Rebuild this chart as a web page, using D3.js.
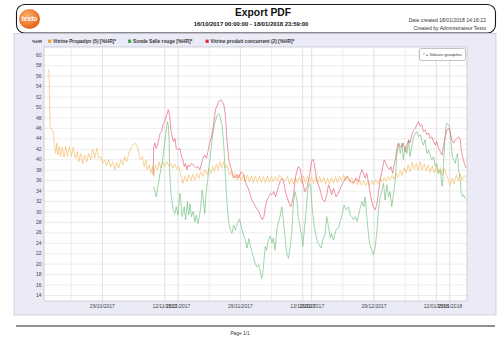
<!DOCTYPE html>
<html><head><meta charset="utf-8">
<script src="https://cdn.jsdelivr.net/npm/d3@7"></script>
<style>body{margin:0;background:#fff}svg{display:block;font-family:"Liberation Sans",Arial,sans-serif}</style>
</head><body><svg id="c" width="500" height="350"></svg>
<script>
// ---- data (day offset from 16/10/2017 00:00, %HR) ----
const seriesNames = ["Vitrine Propadyn (5) [%HR]*","Sonde Salle rouge [%HR]*","Vitrine produit concurrent (2) [%HR]*"];
const seriesColors = ["#f4bb62","#6cc07c","#e55a72"];
const legendColors = ["#eba23a","#3aa84a","#d8273a"];
const propadyn = [[1.0,57.2],[1.15,56.0],[1.3,49],[1.4,46.0],[1.8,45.6],[2.1,45.2],[2.35,42.5],[2.62,41.1],[2.85,43.1],[3.15,40.8],[3.45,42.5],[3.75,40.5],[4.12,42.3],[4.5,40.4],[4.87,42.5],[5.24,40.5],[5.69,42.4],[6.14,40.6],[6.59,42.3],[7.04,40.2],[7.49,41.5],[7.79,39.5],[8.24,41.1],[8.69,39.1],[9.14,40.8],[9.59,39.5],[10.04,41.1],[10.49,39.9],[10.94,41.9],[11.39,40.2],[11.84,42.1],[12.28,40.2],[12.73,40.5],[13.18,39.2],[13.63,39.9],[14.08,38.7],[14.53,39.9],[14.98,38.5],[15.43,39.5],[15.88,38.0],[16.33,39.4],[16.78,38.3],[17.23,39.9],[17.68,38.9],[18.13,40.5],[18.58,39.5],[19.03,41.1],[19.5,42.1],[20.0,42.7],[20.5,43.1],[21.0,42.3],[21.35,40.8],[21.7,39.9],[22.1,40.5],[22.5,38.6],[22.85,39.9],[23.2,38.0],[23.6,38.9],[24.0,37.3],[24.35,38.6],[24.65,36.7],[25.0,38.9],[25.5,38.0],[25.85,39.5],[26.2,38.3],[26.7,39.5],[27.1,38.6],[27.6,39.5],[28.0,38.7],[28.5,39.2],[28.9,38.3],[29.4,39.1],[29.8,38.1],[30.3,38.7],[30.7,37.0],[31.2,35.4],[31.6,36.7],[32.1,35.7],[32.5,37.0],[33.0,35.9],[33.4,37.1],[33.9,36.0],[34.3,37.3],[34.8,36.3],[35.2,37.6],[35.7,36.7],[36.1,38.0],[36.6,37.0],[37.0,38.3],[37.5,37.3],[37.9,38.6],[38.3,37.7],[38.7,39.1],[39.1,38.0],[39.5,39.5],[39.9,38.3],[40.3,39.5],[40.7,38.3],[41.2,38.9],[41.6,37.0],[42.1,37.6],[42.5,36.3],[43.0,37.3],[43.4,36.0],[43.9,37.2],[44.3,35.9],[44.8,37.0],[45.2,35.7],[45.7,37.0],[46.1,35.7],[46.6,36.8],[47.0,35.5],[47.5,36.8],[47.9,35.6],[48.4,36.7],[48.8,35.5],[49.3,36.7],[49.7,35.5],[50.2,36.7],[50.6,35.6],[51.1,36.7],[51.5,35.7],[52.0,36.7],[52.4,35.9],[52.9,37.0],[53.3,36.5],[53.8,36.0],[54.2,35.9],[54.7,36.7],[55.1,35.3],[55.6,36.4],[56.0,35.3],[56.5,36.5],[56.9,35.5],[57.4,36.6],[57.8,35.4],[58.3,36.8],[58.7,35.5],[59.2,36.9],[59.6,35.6],[60.1,36.6],[60.5,35.3],[61.0,36.5],[61.4,35.4],[61.9,36.7],[62.3,35.5],[62.8,36.6],[63.2,35.2],[63.7,36.4],[64.1,35.3],[64.6,36.5],[65.0,35.4],[65.5,36.7],[65.9,35.5],[66.4,36.8],[66.8,35.8],[67.3,37.0],[67.7,35.9],[68.2,36.8],[68.6,35.6],[69.1,36.5],[69.5,35.4],[70.0,36.3],[70.4,35.1],[70.9,36.0],[71.3,35.0],[71.8,35.9],[72.2,34.9],[72.7,35.8],[73.1,35.0],[73.6,35.9],[74.0,35.1],[74.5,36.1],[75.0,35.3],[75.5,36.3],[75.9,35.6],[76.4,36.5],[76.8,35.8],[77.3,36.7],[77.7,36.0],[78.2,36.9],[78.6,36.2],[79.1,37.3],[79.5,36.5],[80.0,37.8],[80.4,36.9],[80.9,38.4],[81.3,37.4],[81.8,38.9],[82.2,37.6],[82.7,39.4],[83.1,38.1],[83.6,39.2],[84.0,37.9],[84.5,39.5],[84.9,38.0],[85.4,39.1],[85.8,37.8],[86.3,38.9],[86.7,37.5],[87.2,38.7],[87.6,37.4],[88.1,38.5],[88.5,37.3],[89.0,38.4],[89.4,36.9],[89.9,38.3],[90.3,37.0],[90.8,36.2],[91.2,35.0],[91.7,36.4],[92.1,35.3],[92.6,37.0],[93.0,35.8],[93.5,37.2],[93.9,36.0],[94.4,36.9],[94.8,36.3]];
const salleRouge = [[24.5,34.8],[24.9,34.1],[25.2,32.8],[25.6,34.8],[26.0,37.0],[26.4,38.6],[26.7,40.5],[27.1,43.1],[27.5,45.9],[27.7,47.2],[27.9,46.6],[28.1,43.7],[28.2,38.0],[28.5,33.5],[28.8,31.6],[29.0,30.3],[29.4,29.6],[29.7,30.9],[30.1,29.3],[30.5,33.5],[30.7,32.2],[31.0,29.0],[31.5,30.9],[31.8,28.4],[32.2,31.9],[32.5,29.3],[32.8,31.5],[33.1,29.0],[33.5,30.0],[33.9,28.0],[34.2,29.3],[34.6,27.7],[34.9,29.0],[35.2,30.9],[35.5,34.1],[35.8,32.2],[36.1,29.6],[36.4,33.5],[36.7,35.4],[37.0,38.0],[37.5,41.8],[37.8,44.3],[38.35,46.9],[38.9,48.5],[39.25,48.8],[39.6,47.9],[40.0,46.6],[40.4,42.4],[40.75,36.7],[41.1,31.6],[41.5,27.7],[41.9,26.4],[42.2,25.8],[42.6,27.4],[43.0,26.4],[43.4,27.7],[43.9,28.5],[44.3,27.1],[44.8,25.5],[45.2,24.5],[45.6,23.0],[46.0,24.8],[46.3,23.5],[46.7,22.4],[47.0,21.3],[47.4,20.1],[47.8,19.4],[48.2,19.8],[48.5,18.8],[48.9,17.2],[49.1,17.8],[49.4,20.7],[49.7,23.3],[50.0,22.6],[50.4,24.5],[50.8,25.3],[51.2,23.9],[51.5,24.9],[51.9,22.6],[52.3,26.5],[52.7,28.1],[53.0,29.0],[53.4,30.9],[53.8,28.1],[54.2,24.5],[54.5,22.0],[54.9,21.0],[55.3,23.3],[55.7,26.5],[56.0,31.6],[56.4,33.8],[56.8,32.2],[57.1,29.0],[57.5,27.1],[57.9,25.2],[58.1,23.3],[58.4,25.8],[58.9,30.3],[59.2,34.1],[59.6,35.4],[59.9,34.8],[60.2,30.9],[60.7,27.1],[61.1,25.2],[61.6,23.9],[62.2,23.0],[62.6,24.5],[63.1,25.5],[63.5,29.0],[63.9,27.1],[64.3,24.9],[64.6,25.8],[65.0,24.5],[65.6,26.5],[66.1,26.8],[66.9,29.3],[67.4,31.2],[67.9,30.3],[68.4,30.9],[68.8,29.3],[69.1,29.0],[69.5,28.4],[69.9,29.0],[70.3,28.1],[70.9,30.3],[71.4,31.9],[71.8,30.9],[72.1,32.8],[72.4,30.0],[72.7,27.1],[73.1,23.9],[73.6,22.6],[74.0,21.7],[74.4,23.3],[74.8,26.5],[75.1,30.3],[75.5,32.8],[75.9,34.1],[76.25,35.4],[76.6,32.2],[77.0,35.1],[77.4,32.8],[77.7,33.8],[78.1,30.9],[78.5,33.5],[78.9,36.0],[79.2,40.5],[79.6,43.1],[80.0,41.1],[80.4,43.1],[80.7,39.9],[81.1,42.4],[81.5,41.1],[81.9,43.7],[82.2,40.5],[82.6,42.4],[83.0,44.3],[83.4,45.0],[83.7,45.3],[84.1,44.3],[84.5,44.7],[84.9,43.4],[85.2,42.7],[85.6,43.7],[86.0,41.1],[86.4,41.8],[86.7,40.8],[87.1,39.9],[87.5,40.5],[87.9,38.6],[88.2,39.2],[88.6,37.3],[89.0,37.9],[89.4,34.8],[89.6,36.0],[89.7,38.6],[90.0,43.1],[90.3,46.3],[90.5,46.9],[90.9,46.6],[91.2,45.6],[91.5,42.4],[91.7,40.5],[92.0,39.9],[92.4,39.2],[92.6,40.5],[92.9,41.1],[93.1,38.0],[93.5,36.0],[93.7,33.5],[94.0,32.8],[94.2,33.2],[94.6,32.5],[94.8,32.3]];
const concurrent = [[24.5,37.0],[24.65,42.4],[24.9,43.1],[25.2,42.1],[25.5,42.7],[25.8,44.0],[26.1,45.0],[26.4,45.3],[26.7,46.6],[27.1,47.2],[27.4,48.2],[27.7,48.8],[27.9,49.5],[28.2,48.5],[28.5,45.6],[28.8,44.3],[29.1,43.4],[29.4,44.0],[29.7,42.1],[30.1,41.8],[30.5,42.1],[30.9,40.5],[31.2,39.9],[31.5,38.6],[31.8,39.2],[32.1,38.0],[32.4,38.9],[32.7,38.6],[33.1,39.2],[33.5,38.9],[33.9,38.6],[34.2,38.3],[34.6,38.6],[35.0,38.0],[35.4,39.2],[35.7,40.2],[36.1,40.8],[36.5,40.2],[36.9,41.8],[37.2,43.1],[37.6,44.3],[38.0,46.3],[38.5,49.5],[39.25,51.1],[39.8,51.4],[40.4,50.4],[40.75,48.2],[41.1,43.7],[41.5,39.9],[41.9,38.6],[42.4,37.0],[42.85,36.4],[43.4,37.0],[43.7,36.4],[44.3,37.6],[44.9,37.0],[45.2,35.7],[46.0,34.1],[46.7,32.2],[47.5,30.9],[48.2,30.0],[49.0,28.4],[49.4,29.0],[49.7,30.9],[50.1,32.2],[50.5,32.8],[50.9,33.5],[51.2,33.2],[51.6,33.8],[52.0,32.8],[52.7,34.8],[53.1,36.0],[53.5,36.4],[53.9,35.4],[54.2,33.8],[54.8,32.2],[55.4,30.9],[55.7,31.6],[56.1,33.5],[56.5,36.7],[57.1,38.6],[57.5,38.3],[58.1,35.5],[58.6,33.8],[59.0,34.5],[59.6,36.7],[60.1,39.6],[60.5,40.0],[60.9,38.0],[61.3,36.0],[62.0,34.1],[62.6,32.2],[63.1,31.9],[63.5,33.2],[63.9,35.1],[64.3,34.1],[64.6,33.2],[65.0,34.4],[65.6,32.8],[66.1,33.5],[66.7,34.8],[67.3,35.7],[67.9,36.7],[68.4,36.4],[68.9,35.7],[69.5,35.4],[70.1,36.4],[70.6,35.7],[71.0,37.0],[71.4,38.0],[71.8,37.3],[72.1,36.4],[72.5,37.3],[72.9,35.4],[73.4,32.8],[73.9,30.9],[74.4,30.3],[74.8,31.6],[75.1,33.5],[75.5,36.0],[76.1,38.6],[76.4,39.9],[76.8,39.2],[77.1,38.6],[77.6,38.0],[77.9,38.6],[78.3,37.3],[78.6,38.9],[78.9,39.9],[79.2,41.8],[79.6,43.1],[80.0,42.4],[80.4,42.4],[80.7,43.1],[81.1,41.5],[81.5,42.7],[81.9,43.7],[82.2,43.1],[82.6,44.7],[83.0,45.6],[83.4,45.9],[83.7,46.6],[84.1,47.2],[84.5,46.3],[84.9,46.6],[85.2,45.3],[85.6,45.6],[86.0,44.7],[86.4,45.0],[86.7,44.0],[87.1,44.3],[87.5,43.4],[87.9,42.7],[88.2,43.4],[88.6,42.1],[89.0,41.5],[89.4,40.8],[89.7,42.4],[90.1,44.3],[90.5,45.6],[90.9,45.9],[91.2,45.3],[91.6,43.7],[92.0,43.1],[92.4,43.7],[92.7,44.0],[93.1,44.3],[93.5,43.7],[93.7,41.8],[94.0,40.5],[94.4,39.2],[94.8,38.3]];
const yTicks = [14,16,18,20,22,24,26,28,30,32,34,36,38,40,42,44,46,48,50,52,54,56,58,60];
const gridDates = ["22/10/2017","29/10/2017","12/11/2017","15/11/2017","22/11/2017","29/11/2017","06/12/2017","13/12/2017","15/12/2017","22/12/2017","29/12/2017","05/01/2018","08/01/2018","12/01/2018","15/01/2018"];
const labelDates = ["29/10/2017","12/11/2017","15/11/2017","29/11/2017","13/12/2017","15/12/2017","29/12/2017","12/01/2018","15/01/2018"];
const periodText = "16/10/2017 00:00:00 - 18/01/2018 23:59:00";

// ---- drawing ----
const parse = d3.utcParse("%d/%m/%Y");
const t0 = Date.UTC(2017,9,16);
const toDate = d => new Date(t0 + d*864e5);
const svg = d3.select("#c");
const L=44,R=467,T=47,B=301;
const x = d3.scaleUtc().domain([Date.UTC(2017,9,16), Date.UTC(2018,0,19)]).range([L,R]);
const y = d3.scaleLinear().domain([12.85,61.5]).range([B,T]);

// header
svg.append("rect").attr("x",16.5).attr("y",4.5).attr("width",479).attr("height",28.5).attr("rx",8)
  .attr("fill","#fff").attr("stroke","#1a1a1a").attr("stroke-width",1.1);
const grad = svg.append("defs").append("radialGradient").attr("id","lg").attr("cx","40%").attr("cy","35%").attr("r","65%");
grad.append("stop").attr("offset","0%").attr("stop-color","#fbb36a");
grad.append("stop").attr("offset","100%").attr("stop-color","#e8601c");
svg.append("ellipse").attr("cx",29.5).attr("cy",19).attr("rx",10.5).attr("ry",10).attr("fill","url(#lg)");
svg.append("text").attr("x",29.5).attr("y",21.3).attr("text-anchor","middle").attr("font-size",6.6)
  .attr("font-weight","bold").attr("fill","#fff").text("testo");
svg.append("text").attr("x",263).attr("y",15.5).attr("text-anchor","middle").attr("font-size",10.3)
  .attr("font-weight","bold").attr("fill","#111").text("Export PDF");
svg.append("text").attr("x",251).attr("y",26.2).attr("text-anchor","middle").attr("font-size",5.9)
  .attr("font-weight","bold").attr("fill","#111").text(periodText);
svg.append("text").attr("x",486).attr("y",21.5).attr("text-anchor","end").attr("font-size",5.1)
  .attr("fill","#333").text("Date created 18/01/2018 14:16:22");
svg.append("text").attr("x",486).attr("y",29.5).attr("text-anchor","end").attr("font-size",5.1)
  .attr("fill","#333").text("Created by Administrateur Testo");

// panel
svg.append("rect").attr("x",14).attr("y",33.5).attr("width",482).attr("height",281.5)
  .attr("fill","#ebebf8").attr("stroke","#c4c4d4").attr("stroke-width",0.7);
svg.append("rect").attr("x",L).attr("y",T).attr("width",R-L).attr("height",B-T).attr("fill","#fff");

// grid
const gy = svg.append("g").attr("transform",`translate(${L},0)`)
  .call(d3.axisLeft(y).tickValues(yTicks).tickSize(-(R-L)).tickFormat(""));
gy.select(".domain").remove();
gy.selectAll("line").attr("stroke","#e0e0e0").attr("stroke-width",0.6);
const gx = svg.append("g").attr("transform",`translate(0,${B})`)
  .call(d3.axisBottom(x).tickValues(gridDates.map(parse)).tickSize(-(B-T)).tickFormat(""));
gx.select(".domain").remove();
const lblSet = new Set(labelDates);
gx.selectAll("line").attr("stroke",(d)=> lblSet.has(d3.utcFormat("%d/%m/%Y")(d)) ? "#cccccc" : "#e4e4e4").attr("stroke-width",0.6);

svg.append("rect").attr("x",L).attr("y",T).attr("width",R-L).attr("height",B-T)
  .attr("fill","none").attr("stroke","#b4b4bc").attr("stroke-width",0.6);

// axes labels
const ay = svg.append("g").attr("transform",`translate(${L},0)`)
  .call(d3.axisLeft(y).tickValues(yTicks).tickSize(0).tickPadding(2.5));
ay.select(".domain").remove();
ay.selectAll("text").attr("font-size",5).attr("fill","#444").attr("font-family","Liberation Sans, Arial");
const ax = svg.append("g").attr("transform",`translate(0,${B})`)
  .call(d3.axisBottom(x).tickValues(labelDates.map(parse)).tickSize(0).tickPadding(3.5).tickFormat(d3.utcFormat("%d/%m/%Y")));
ax.select(".domain").remove();
ax.selectAll("text").attr("font-size",5).attr("fill","#444").attr("font-family","Liberation Sans, Arial");
svg.append("text").attr("x",42).attr("y",42.8).attr("text-anchor","end").attr("font-size",4.3)
  .attr("font-weight","bold").attr("fill","#444").text("%HR");

// lines
const line = d3.line().x(d=>x(toDate(d[0]))).y(d=>y(d[1]));
const all = [propadyn, salleRouge, concurrent];
const g = svg.append("g");
[0,1,2].forEach(i=>{
  g.append("path").datum(all[i]).attr("d",line).attr("fill","none")
    .attr("stroke",seriesColors[i]).attr("stroke-width",0.65).attr("stroke-linejoin","round");
});

// legend
const legX = [48,128,205.5];
seriesNames.forEach((n,i)=>{
  svg.append("rect").attr("x",legX[i]).attr("y",39.6).attr("width",3.2).attr("height",3.2).attr("fill",legendColors[i]);
  svg.append("text").attr("x",legX[i]+5).attr("y",42.9).attr("font-size",4.8).attr("font-weight","bold")
    .attr("fill","#333").text(n);
});

// grouped values box
svg.append("rect").attr("x",419.5).attr("y",48.5).attr("width",46).attr("height",12).attr("rx",1.5)
  .attr("fill","#fff").attr("stroke","#9a9aa6").attr("stroke-width",0.6);
svg.append("text").attr("x",442.5).attr("y",56).attr("text-anchor","middle").attr("font-size",4.2)
  .attr("fill","#333").text("* = Valeurs groupées");

// footer
svg.append("line").attr("x1",16).attr("x2",495).attr("y1",326).attr("y2",326).attr("stroke","#222").attr("stroke-width",1.2);
svg.append("text").attr("x",240).attr("y",335).attr("text-anchor","middle").attr("font-size",4.8)
  .attr("fill","#333").text("Page 1/1");
</script></body></html>
